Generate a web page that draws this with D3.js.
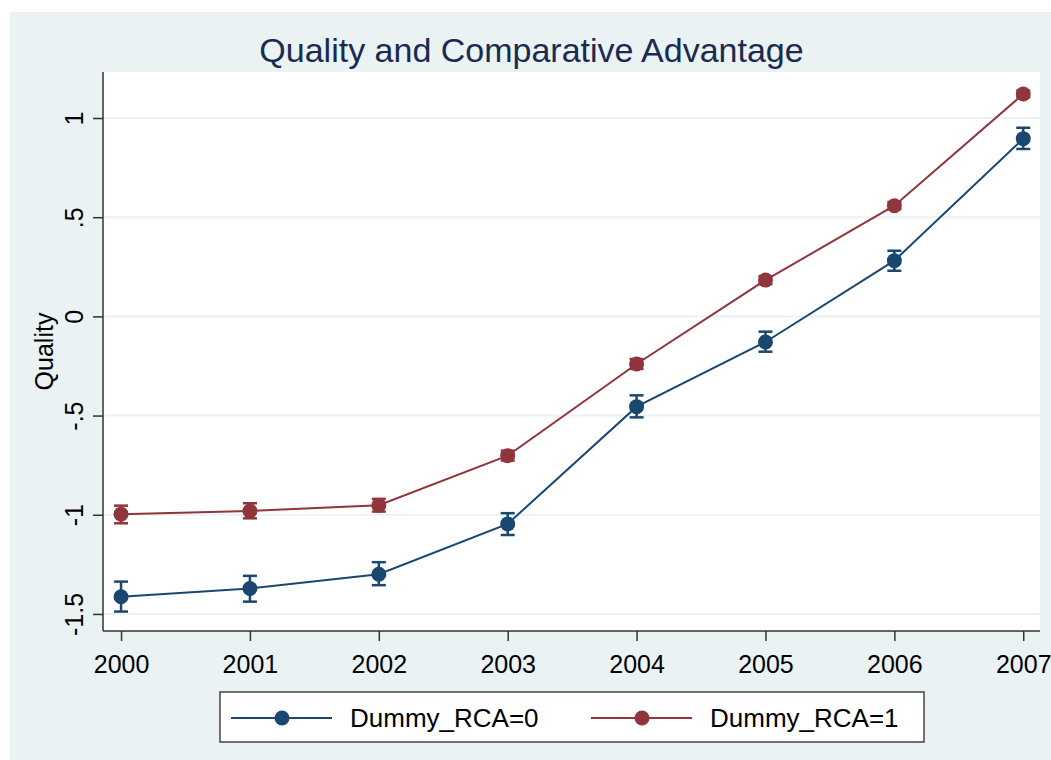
<!DOCTYPE html>
<html lang="en">
<head>
<meta charset="UTF-8">
<title>Quality and Comparative Advantage</title>
<script src="https://d3js.org/d3.v7.min.js"></script>
<style>
    body { margin: 0; background: #fff; }
    text { font-family: "Liberation Sans", Arial, sans-serif; }
</style>
</head>
<body>
<script>
    // data
    const years = [2000, 2001, 2002, 2003, 2004, 2005, 2006, 2007]
    const rca0 = [-1.413, -1.372, -1.300, -1.046, -0.455, -0.129, 0.281, 0.896]
    const rca0Lo = [-1.488, -1.438, -1.355, -1.102, -0.509, -0.178, 0.230, 0.844]
    const rca0Hi = [-1.337, -1.308, -1.239, -0.992, -0.398, -0.077, 0.331, 0.951]
    const rca1 = [-0.997, -0.981, -0.952, -0.702, -0.240, 0.183, 0.558, 1.121]
    const rca1Lo = [-1.043, -1.018, -0.984, -0.727, -0.265, 0.163, 0.540, 1.104]
    const rca1Hi = [-0.954, -0.942, -0.920, -0.677, -0.215, 0.203, 0.576, 1.138]
    const yTicks = [-1.5, -1, -0.5, 0, 0.5, 1]
    const yTickLabels = ["-1.5", "-1", "-.5", "0", ".5", "1"]
    const seriesNames = ["Dummy_RCA=0", "Dummy_RCA=1"]
    const seriesColors = ["#1a476f", "#90353b"]

    const W = 1051, H = 760
    const plot = {left: 103, right: 1040, top: 72, bottom: 631}

    const svg = d3.select("body").append("svg")
        .attr("width", W)
        .attr("height", H)

    // stata-ish backdrop
    svg.append("rect")
        .attr("x", 10).attr("y", 12)
        .attr("width", W - 10).attr("height", H - 12)
        .attr("fill", "#eaf2f3")
    svg.append("rect")
        .attr("x", plot.left).attr("y", plot.top)
        .attr("width", plot.right - plot.left).attr("height", plot.bottom - plot.top)
        .attr("fill", "#fff")

    const x = d3.scaleLinear().domain([1999.86, 2007.13]).range([plot.left, plot.right])
    const y = d3.scaleLinear().domain([-1.586, 1.232]).range([plot.bottom, plot.top])

    // grid
    svg.selectAll(".grid")
        .data(yTicks)
        .enter()
        .append("line")
        .attr("class", "grid")
        .attr("x1", plot.left).attr("x2", plot.right)
        .attr("y1", d => y(d)).attr("y2", d => y(d))
        .attr("stroke", "#eaf2f3")
        .attr("stroke-width", 2)

    // axes
    const yAxis = svg.append("g")
        .attr("transform", `translate(${plot.left},0)`)
        .call(d3.axisLeft(y).tickValues(yTicks).tickSize(10).tickPadding(0)
            .tickFormat((d, i) => yTickLabels[i]))
    yAxis.select(".domain").attr("d", `M0,${plot.top}V${plot.bottom}`)
    yAxis.selectAll("text")
        .attr("x", null).attr("dy", null)
        .attr("transform", "translate(-20,0) rotate(-90)")
        .attr("text-anchor", "middle")
        .attr("font-size", 25)
        .attr("fill", "#000")

    const xAxis = svg.append("g")
        .attr("transform", `translate(0,${plot.bottom})`)
        .call(d3.axisBottom(x).tickValues(years).tickSize(10).tickFormat(d3.format("d")))
    xAxis.select(".domain").attr("d", `M${plot.left},0H${plot.right}`)
    xAxis.selectAll("text")
        .attr("y", 42).attr("dy", null)
        .attr("font-size", 25)
        .attr("fill", "#000")

    svg.selectAll(".domain, .tick line")
        .attr("stroke", "#333")
        .attr("stroke-width", 1.5)

    svg.append("text")
        .attr("transform", `translate(53,${(plot.top + plot.bottom) / 2}) rotate(-90)`)
        .attr("text-anchor", "middle")
        .attr("font-size", 25)
        .text("Quality")

    svg.append("text")
        .attr("x", (plot.left + plot.right) / 2 - 40)
        .attr("y", 62)
        .attr("text-anchor", "middle")
        .attr("font-size", 34)
        .attr("fill", "#1a2a50")
        .text("Quality and Comparative Advantage")

    // series
    const allSeries = [
        {mean: rca0, lo: rca0Lo, hi: rca0Hi},
        {mean: rca1, lo: rca1Lo, hi: rca1Hi}
    ]
    const line = d3.line().x(d => x(d.year)).y(d => y(d.v))

    allSeries.forEach(function(s, k) {
        const pts = years.map((yr, i) => ({year: yr, v: s.mean[i], lo: s.lo[i], hi: s.hi[i]}))
        const col = seriesColors[k]
        const g = svg.append("g")

        g.append("path")
            .datum(pts)
            .attr("d", line)
            .attr("fill", "none")
            .attr("stroke", col)
            .attr("stroke-width", 2)

        const bars = g.selectAll(".ci").data(pts).enter().append("g")
        bars.append("line")
            .attr("x1", d => x(d.year)).attr("x2", d => x(d.year))
            .attr("y1", d => y(d.lo)).attr("y2", d => y(d.hi))
        bars.append("line")
            .attr("x1", d => x(d.year) - 7).attr("x2", d => x(d.year) + 7)
            .attr("y1", d => y(d.lo)).attr("y2", d => y(d.lo))
        bars.append("line")
            .attr("x1", d => x(d.year) - 7).attr("x2", d => x(d.year) + 7)
            .attr("y1", d => y(d.hi)).attr("y2", d => y(d.hi))
        bars.selectAll("line")
            .attr("stroke", col)
            .attr("stroke-width", 2.5)

        g.selectAll("circle")
            .data(pts)
            .enter()
            .append("circle")
            .attr("cx", d => x(d.year))
            .attr("cy", d => y(d.v))
            .attr("r", 7.5)
            .attr("fill", col)
    })

    // legend
    const leg = svg.append("g")
    leg.append("rect")
        .attr("x", 220).attr("y", 692)
        .attr("width", 704).attr("height", 50)
        .attr("fill", "#fff")
        .attr("stroke", "#444")
        .attr("stroke-width", 1.5)

    const legX = [231, 591]
    seriesNames.forEach(function(name, k) {
        const lx = legX[k]
        leg.append("line")
            .attr("x1", lx).attr("x2", lx + 101)
            .attr("y1", 718).attr("y2", 718)
            .attr("stroke", seriesColors[k])
            .attr("stroke-width", 2)
        leg.append("circle")
            .attr("cx", lx + 51).attr("cy", 718)
            .attr("r", 7.5)
            .attr("fill", seriesColors[k])
        leg.append("text")
            .attr("x", lx + 119).attr("y", 727)
            .attr("font-size", 26)
            .text(name)
    })
</script>
</body>
</html>
